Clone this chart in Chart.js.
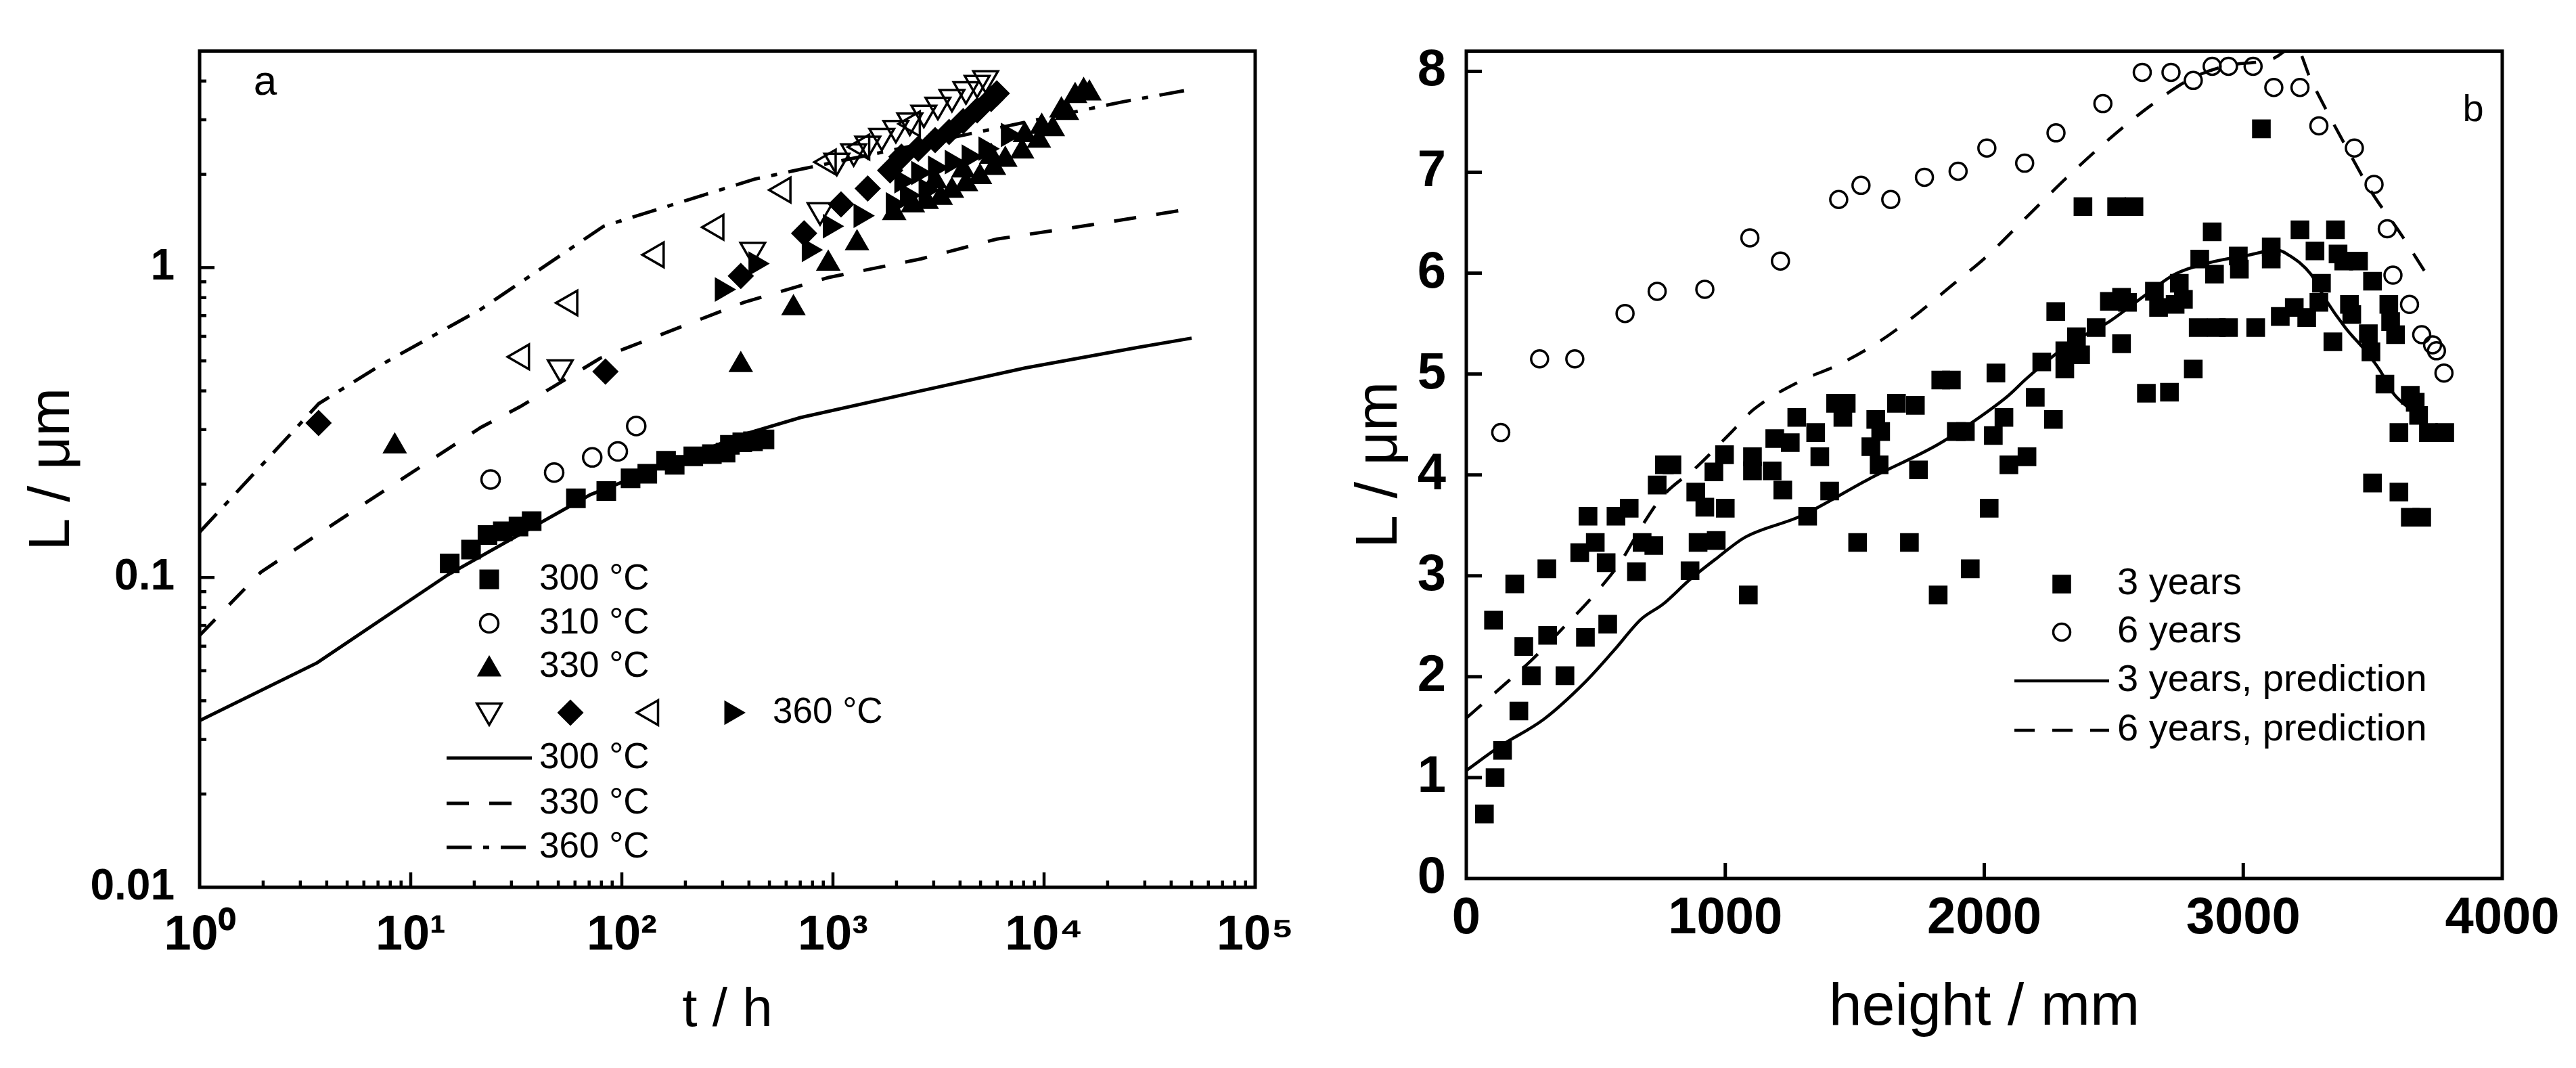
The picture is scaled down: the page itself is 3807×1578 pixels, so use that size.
<!DOCTYPE html>
<html><head><meta charset="utf-8">
<script src="https://cdn.jsdelivr.net/npm/chart.js@4.4.1/dist/chart.umd.min.js"></script>
<style>
html,body{margin:0;padding:0;background:#fff;}
#wrap{position:relative;width:3807px;height:1578px;background:#fff;overflow:hidden;}
#ca{position:absolute;left:0;top:0;width:1980px;height:1578px;}
#cb{position:absolute;left:1980px;top:0;width:1827px;height:1578px;}
</style></head><body>
<div id="wrap"><canvas id="ca" width="1980" height="1578"></canvas><canvas id="cb" width="1827" height="1578"></canvas></div>
<script>
// ---------------- Panel a data (t / h, L / µm) ----------------
const xTicksA = [1, 10, 100, 1000, 10000, 100000];
const xTickLabelsA = ['10\u2070', '10\u00B9', '10\u00B2', '10\u00B3', '10\u2074', '10\u2075'];
const yTicksA = [0.01, 0.1, 1];
const yTickLabelsA = ['0.01', '0.1', '1'];
const legendLabelsA = ['300 \u00B0C', '310 \u00B0C', '330 \u00B0C', '360 \u00B0C', '300 \u00B0C', '330 \u00B0C', '360 \u00B0C'];
const panelLabelA = 'a';

const t300 = [15.3, 19.3, 23.1, 27.3, 32.4, 37.4, 60.6, 84.4, 110, 132, 162, 178, 218, 267, 310, 325, 372, 418, 474];
const L300 = [0.111, 0.123, 0.137, 0.141, 0.146, 0.152, 0.180, 0.190, 0.209, 0.216, 0.238, 0.231, 0.246, 0.250, 0.253, 0.268, 0.273, 0.275, 0.279];

const t310 = [23.9, 47.8, 72.4, 95.7, 117];
const L310 = [0.207, 0.218, 0.244, 0.255, 0.308];

const t330 = [8.4, 366, 650, 950, 1300, 1950, 2390, 2780, 3050, 3240, 3660, 4140, 4270, 4970, 5620, 5790, 6550, 7870, 8110, 9450, 9750, 11000, 12080, 12830, 14030, 15400, 16400];
const L330 = [0.265, 0.485, 0.74, 1.03, 1.20, 1.50, 1.59, 1.63, 1.90, 1.68, 1.77, 2.06, 1.86, 1.96, 2.28, 2.10, 2.23, 2.37, 2.68, 2.57, 2.85, 2.80, 3.22, 3.16, 3.58, 3.72, 3.65];

const t360down = [51.1, 417, 869, 1043, 1254, 1462, 1703, 1986, 2313, 2694, 3141, 3661, 4266, 4820, 5287];
const L360down = [0.476, 1.14, 1.53, 2.21, 2.37, 2.51, 2.66, 2.82, 2.98, 3.16, 3.35, 3.55, 3.76, 3.94, 4.08];

const t360diam = [3.66, 83.6, 366, 730, 1092, 1461, 1866, 2110, 2535, 3048, 3548, 4140, 4820, 5615, 5970];
const L360diam = [0.315, 0.462, 0.94, 1.29, 1.60, 1.80, 2.06, 2.28, 2.42, 2.58, 2.74, 2.97, 3.22, 3.50, 3.65];

const t360left = [33.6, 56.9, 146, 280, 582, 953, 1374, 2387];
const L360left = [0.515, 0.769, 1.10, 1.35, 1.78, 2.19, 2.45, 2.91];

const t360right = [298, 430, 769, 968, 1353, 1923, 2110, 2244, 2535, 2750, 3048, 3661, 4400, 5283, 6748];
const L360right = [0.85, 1.03, 1.14, 1.36, 1.47, 1.60, 1.90, 1.71, 2.02, 1.78, 2.10, 2.19, 2.28, 2.42, 2.68];

const tFit300 = [1, 3.6, 15, 71, 380, 701, 2387, 8110, 27600, 50000];
const LFit300 = [0.0345, 0.053, 0.102, 0.185, 0.29, 0.328, 0.395, 0.474, 0.552, 0.592];
const tFit330 = [1, 1.95, 4.23, 9.2, 21.5, 32.8, 46.7, 79, 380, 953, 2613, 5970, 16630, 50000];
const LFit330 = [0.065, 0.104, 0.1475, 0.209, 0.305, 0.355, 0.41, 0.51, 0.773, 0.929, 1.067, 1.236, 1.374, 1.55];
const tFit360 = [1, 3.67, 7.45, 21.5, 82, 426, 712, 23660, 50000];
const LFit360 = [0.14, 0.364, 0.491, 0.734, 1.36, 1.93, 2.08, 3.43, 3.76];

// ---------------- Panel b data (height / mm, L / µm) ----------------
const xTicksB = [0, 1000, 2000, 3000, 4000];
const xTickLabelsB = ['0', '1000', '2000', '3000', '4000'];
const yTicksB = [0, 1, 2, 3, 4, 5, 6, 7, 8];
const yTickLabelsB = ['0', '1', '2', '3', '4', '5', '6', '7', '8'];
const legendLabelsB = ['3 years', '6 years', '3 years, prediction', '6 years, prediction'];
const panelLabelB = 'b';

const h3y = [70,111,140,105,203,187,222,251,314,311,
  381,460,438,470,498,546,540,578,629,657,
  679,724,737,765,794,864,886,895,921,956,
  965,997,1000,1089,1105,1105,1181,1191,1222,1251,
  1276,1318,1349,1365,1403,1426,1454,1467,1511,1562,
  1581,1600,1594,1661,1711,1734,1746,1822,1832,1873,
  1892,1927,1946,2019,2035,2045,2076,2095,2165,2197,
  2222,2267,2276,2311,2311,2356,2372,2381,2432,2483,
  2511,2530,2530,2553,2578,2626,2657,2673,2715,2737,
  2753,2769,2807,2826,2832,2880,2889,2896,2943,2985,
  2981,3048,3070,3108,3108,3143,3197,3219,3245,3277,
  3292,3302,3346,3356,3366,3388,3410,3419,3445,3483,
  3493,3499,3499,3547,3562,3569,3588,3601,3601,3645,
  3645,3664,3677,3689,3715,3778];
const L3y = [0.64,1.00,1.27,2.56,1.66,2.92,2.30,2.01,2.41,3.07,
  2.01,2.39,3.23,3.59,3.33,2.52,3.13,3.59,3.67,3.04,
  3.33,3.30,3.90,4.10,4.10,3.05,3.83,3.33,3.68,4.03,
  3.35,4.20,3.67,2.81,4.18,4.04,4.04,4.36,3.85,4.32,
  4.57,3.59,4.42,4.18,3.84,4.71,4.57,4.71,3.33,4.28,
  4.55,4.43,4.10,4.71,3.33,4.69,4.05,2.81,4.94,4.94,
  4.43,4.43,3.07,3.67,4.39,5.01,4.57,4.10,4.18,4.77,
  5.12,4.55,5.62,5.05,5.23,5.37,5.19,6.66,5.46,5.72,
  6.66,5.30,5.76,5.71,6.66,4.81,5.82,5.66,4.82,5.69,
  5.90,5.74,5.05,5.46,6.14,6.41,5.99,5.46,5.46,6.04,
  6.17,5.46,7.43,6.26,6.14,5.57,5.66,6.43,5.56,6.22,
  5.71,5.90,5.32,6.43,6.19,6.12,5.69,5.59,6.12,5.40,
  5.22,5.92,3.92,4.90,5.69,5.52,5.39,4.42,3.83,4.79,
  3.58,4.72,4.59,3.58,4.42,4.42];

const h6y = [133,283,419,613,737,921,1095,1213,1438,1524,1639,1769,1899,2010,2156,2277,2458,2610,2721,2807,2880,2943,3038,3118,3219,3292,3429,3505,3556,3578,3642,3689,3731,3746,3775];
const L6y = [4.42,5.15,5.15,5.60,5.82,5.84,6.35,6.12,6.73,6.87,6.73,6.95,7.01,7.24,7.09,7.39,7.68,7.99,7.99,7.91,8.05,8.05,8.05,7.84,7.84,7.46,7.24,6.88,6.44,5.98,5.69,5.39,5.29,5.23,5.01];

const hPred3 = [0,130,300,460,570,675,760,862,970,1075,1290,1555,1820,1930,2090,2165,2324,2483,2610,2737,2864,3023,3128,3181,3261,3315,3394,3475,3527,3582,3661,3690];
const LPred3 = [1.07,1.31,1.58,1.95,2.26,2.57,2.72,2.96,3.18,3.38,3.59,3.96,4.30,4.48,4.78,4.96,5.29,5.52,5.76,5.99,6.10,6.18,6.23,6.17,5.99,5.75,5.46,5.22,5.04,4.80,4.62,4.55];
const hPred6 = [0,115,250,380,490,596,675,755,890,1022,1110,1290,1435,1594,1753,1880,2007,2165,2324,2483,2642,2800,2927,3118,3200,3262,3421,3501,3600,3700];
const LPred6 = [1.59,1.85,2.16,2.50,2.80,3.14,3.48,3.78,4.08,4.42,4.65,4.93,5.09,5.32,5.62,5.89,6.16,6.56,6.96,7.33,7.66,7.93,8.05,8.13,8.25,7.91,7.14,6.78,6.42,6.02];

// ---------------- helpers ----------------
const FONT = '"Liberation Sans", Arial, Helvetica, sans-serif';
Chart.defaults.font.family = FONT;
Chart.defaults.color = '#000';
const pts = (xs, ys) => xs.map((x, i) => ({x: x, y: ys[i]}));
const labelFrom = (vals, labels) => (v) => { const i = vals.indexOf(v); return i >= 0 ? labels[i] : ''; };
const logMinor = (lo, hi) => { const out = []; for (let d = lo; d < hi; d *= 10) for (let m = 2; m <= 9; m++) out.push(d * m); return out; };

function drawMarker(ctx, ds, x, y) {
  ctx.save();
  ctx.fillStyle = ds.backgroundColor;
  ctx.strokeStyle = ds.borderColor;
  ctx.lineWidth = ds.borderWidth;
  Chart.helpers.drawPoint(ctx, {pointStyle: ds.pointStyle, rotation: ds.pointRotation || 0, radius: ds.pointRadius, borderWidth: ds.borderWidth}, x, y);
  ctx.restore();
}
function drawLineSample(ctx, ds, x1, x2, y) {
  ctx.save();
  ctx.strokeStyle = ds.borderColor;
  ctx.lineWidth = ds.borderWidth;
  ctx.setLineDash(ds.borderDash || []);
  ctx.beginPath(); ctx.moveTo(x1, y); ctx.lineTo(x2, y); ctx.stroke();
  ctx.restore();
}

const framePlugin = {
  id: 'frame',
  afterDatasetsDraw(chart, args, o) {
    const {ctx, chartArea: a, scales} = chart;
    ctx.save();
    ctx.strokeStyle = '#000';
    ctx.setLineDash([]);
    ctx.lineCap = 'butt';
    ctx.lineWidth = o.tickWidth;
    const tick = (x1, y1, x2, y2) => { ctx.beginPath(); ctx.moveTo(x1, y1); ctx.lineTo(x2, y2); ctx.stroke(); };
    o.xMajor.forEach(v => { const p = scales.x.getPixelForValue(v); tick(p, a.bottom, p, a.bottom - o.majorLen); });
    o.xMinor.forEach(v => { const p = scales.x.getPixelForValue(v); tick(p, a.bottom, p, a.bottom - o.minorLen); });
    o.yMajor.forEach(v => { const p = scales.y.getPixelForValue(v); tick(a.left, p, a.left + o.majorLen, p); });
    o.yMinor.forEach(v => { const p = scales.y.getPixelForValue(v); tick(a.left, p, a.left + o.minorLen, p); });
    ctx.lineWidth = o.lineWidth;
    ctx.strokeRect(a.left, a.top, a.right - a.left, a.bottom - a.top);
    ctx.restore();
  }
};

const annotPlugin = {
  id: 'annot',
  afterDraw(chart, args, o) {
    const ctx = chart.ctx;
    const dss = chart.data.datasets;
    ctx.save();
    ctx.fillStyle = '#000';
    ctx.textAlign = 'left';
    ctx.textBaseline = 'middle';
    ctx.font = 'normal ' + o.fontSize + 'px ' + FONT;
    o.rows.forEach(r => {
      (r.markers || []).forEach(m => drawMarker(ctx, dss[m.ds], m.x, r.y + (m.dy || 0)));
      if (r.line) drawLineSample(ctx, dss[r.line.ds], r.line.x1, r.line.x2, r.y);
      ctx.fillText(o.labels[r.text], r.tx, r.y);
    });
    ctx.font = 'normal ' + o.panelFont + 'px ' + FONT;
    ctx.textAlign = 'center';
    ctx.textBaseline = 'alphabetic';
    ctx.fillText(o.panel, o.panelX, o.panelY);
    ctx.restore();
  }
};

// ---------------- Chart a ----------------
const mk = (label, xs, ys, style, r, filled, rot, bw) => ({
  label: label, data: pts(xs, ys), pointStyle: style, pointRadius: r, pointHoverRadius: r,
  pointRotation: rot || 0, backgroundColor: filled ? '#000' : 'rgba(0,0,0,0)', borderColor: '#000',
  borderWidth: filled ? 0 : (bw || 3.5), showLine: false, order: 1
});
const ln = (label, xs, ys, dash, w, mono) => ({
  label: label, data: pts(xs, ys), showLine: true, pointRadius: 0, pointHoverRadius: 0,
  borderColor: '#000', backgroundColor: '#000', borderWidth: w, borderDash: dash, fill: false,
  tension: 0, cubicInterpolationMode: mono ? 'monotone' : 'default', order: 5
});

new Chart(document.getElementById('ca'), {
  type: 'scatter',
  data: {datasets: [
    mk('300 °C', t300, L300, 'rect', 20.5, true),
    mk('310 °C', t310, L310, 'circle', 13.5, false),
    mk('330 °C', t330, L330, 'triangle', 21, true),
    mk('360 °C (1)', t360down, L360down, 'triangle', 21, false, 180),
    mk('360 °C (2)', t360diam, L360diam, 'rectRot', 19.5, true),
    mk('360 °C (3)', t360left, L360left, 'triangle', 21, false, 270),
    mk('360 °C (4)', t360right, L360right, 'triangle', 21, true, 90),
    ln('300 °C fit', tFit300, LFit300, [], 5),
    ln('330 °C fit', tFit330, LFit330, [33, 30], 5),
    ln('360 °C fit', tFit360, LFit360, [37, 17, 9, 17], 5)
  ]},
  options: {
    responsive: false, animation: false, devicePixelRatio: 1,
    layout: {padding: {left: 0, top: 48, right: 125, bottom: 0}},
    plugins: {
      legend: {display: false}, tooltip: {enabled: false},
      frame: {lineWidth: 5, tickWidth: 4.5, majorLen: 22, minorLen: 10,
        xMajor: xTicksA.slice(1, -1), xMinor: logMinor(1, 100000),
        yMajor: yTicksA.slice(1), yMinor: logMinor(0.01, 1).concat([2, 3, 4])},
      annot: {
        fontSize: 53, labels: legendLabelsA, panel: panelLabelA, panelFont: 62, panelX: 392, panelY: 140,
        rows: [
          {y: 856, markers: [{ds: 0, x: 723}], text: 0, tx: 797},
          {y: 921, markers: [{ds: 1, x: 723}], text: 1, tx: 797},
          {y: 985, markers: [{ds: 2, x: 723, dy: 4}], text: 2, tx: 797},
          {y: 1053, markers: [{ds: 3, x: 723, dy: -3}, {ds: 4, x: 843}, {ds: 5, x: 962}, {ds: 6, x: 1081}], text: 3, tx: 1142},
          {y: 1120, line: {ds: 7, x1: 660, x2: 786}, text: 4, tx: 797},
          {y: 1187, line: {ds: 8, x1: 660, x2: 786}, text: 5, tx: 797},
          {y: 1252, line: {ds: 9, x1: 660, x2: 786}, text: 6, tx: 797}
        ]
      }
    },
    scales: {
      x: {
        type: 'logarithmic', min: 1, max: 100000,
        afterBuildTicks: (s) => { s.ticks = xTicksA.map(v => ({value: v})); },
        afterFit: (s) => { s.height = 267; },
        grid: {display: false, drawTicks: false}, border: {display: false},
        ticks: {autoSkip: false, maxRotation: 0, padding: 29, callback: labelFrom(xTicksA, xTickLabelsA),
          font: {size: 72, weight: 'bold'}},
        title: {display: true, text: 't / h', font: {size: 80, weight: 'normal'}, padding: {top: 0, bottom: 36}}
      },
      y: {
        type: 'logarithmic', min: 0.01, max: 5,
        afterBuildTicks: (s) => { s.ticks = yTicksA.map(v => ({value: v})); },
        afterFit: (s) => { s.width = 295; },
        grid: {display: false, drawTicks: false}, border: {display: false},
        ticks: {autoSkip: false, padding: 37, callback: labelFrom(yTicksA, yTickLabelsA),
          font: {size: 64, weight: 'bold'}},
        title: {display: true, text: 'L / \u03BCm', font: {size: 86, weight: 'normal'}, padding: {top: 27, bottom: 0}}
      }
    }
  },
  plugins: [framePlugin, annotPlugin]
});

// ---------------- Chart b ----------------
new Chart(document.getElementById('cb'), {
  type: 'scatter',
  data: {datasets: [
    mk('3 years', h3y, L3y, 'rect', 19.5, true),
    mk('6 years', h6y, L6y, 'circle', 12.5, false),
    ln('3 years, prediction', hPred3, LPred3, [], 4.5, true),
    ln('6 years, prediction', hPred6, LPred6, [30, 26], 4.5, true)
  ]},
  options: {
    responsive: false, animation: false, devicePixelRatio: 1,
    layout: {padding: {left: 0, top: 67, right: 109, bottom: 0}},
    plugins: {
      legend: {display: false}, tooltip: {enabled: false},
      frame: {lineWidth: 5, tickWidth: 5, majorLen: 23, minorLen: 0,
        xMajor: xTicksB.slice(1, -1), xMinor: [], yMajor: yTicksB.slice(1), yMinor: []},
      annot: {
        fontSize: 56, labels: legendLabelsB, panel: panelLabelB, panelFont: 56, panelX: 1675, panelY: 179,
        rows: [
          {y: 863, markers: [{ds: 0, x: 1067}], text: 0, tx: 1149},
          {y: 934, markers: [{ds: 1, x: 1067}], text: 1, tx: 1149},
          {y: 1006, line: {ds: 2, x1: 997, x2: 1137}, text: 2, tx: 1149},
          {y: 1079, line: {ds: 3, x1: 997, x2: 1137}, text: 3, tx: 1149}
        ]
      }
    },
    scales: {
      x: {
        type: 'linear', min: 0, max: 4000,
        afterBuildTicks: (s) => { s.ticks = xTicksB.map(v => ({value: v})); },
        afterFit: (s) => { s.height = 280; },
        grid: {display: false, drawTicks: false}, border: {display: false},
        ticks: {autoSkip: false, maxRotation: 0, padding: 14, callback: labelFrom(xTicksB, xTickLabelsB),
          font: {size: 76, weight: 'bold'}},
        title: {display: true, text: 'height / mm', font: {size: 88, weight: 'normal'}, padding: {top: 0, bottom: 35}}
      },
      y: {
        type: 'linear', min: 0, max: 8.2,
        afterBuildTicks: (s) => { s.ticks = yTicksB.map(v => ({value: v})); },
        afterFit: (s) => { s.width = 187; },
        grid: {display: false, drawTicks: false}, border: {display: false},
        ticks: {autoSkip: false, padding: 30, callback: labelFrom(yTicksB, yTickLabelsB),
          font: {size: 76, weight: 'bold'}},
        title: {display: true, text: 'L / \u03BCm', font: {size: 88, weight: 'normal'}, padding: {top: 7, bottom: 0}}
      }
    }
  },
  plugins: [framePlugin, annotPlugin]
});
</script>
</body></html>
